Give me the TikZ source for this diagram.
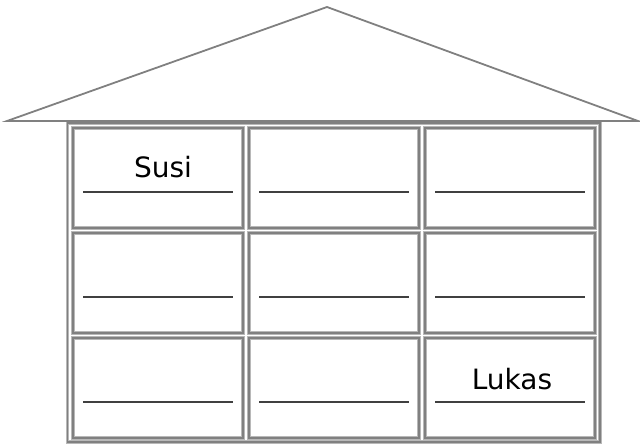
\documentclass[tikz,border=0pt]{standalone}
\usepackage{fontspec}
\setmainfont{DejaVu Sans}
\definecolor{bord}{gray}{0.5}
\definecolor{bordl}{gray}{0.72}
\definecolor{uline}{gray}{0.25}
\tikzset{
  roofline/.style={draw=bord, line width=1.8pt, line join=miter},
  cellbox/.style={draw=bordl, line width=3.2pt},
  cellcore/.style={draw=bord, line width=1.4pt},
  nameline/.style={draw=uline, line width=1.6pt},
  nametext/.style={font=\fontsize{28}{31}\selectfont, anchor=base, inner sep=0pt, text=black}
}
\begin{document}
\begin{tikzpicture}[x=1pt, y=-1pt]
\useasboundingbox (0,0) rectangle (640,444);
% roof
\coordinate (rl) at (7,121);
\coordinate (ra) at (327,7);
\coordinate (rr) at (638,121);
\draw[roofline] (rl) -- (ra) -- (rr) -- cycle;
% table outer border
\draw[cellbox] (67.5,123) rectangle (600,442);
\draw[cellcore] (67.5,123) rectangle (600,442);
\draw[draw=bord, line width=2pt] (rl) -- (rr);
% cells
\foreach \c/\x in {0/73,1/249,2/425}{
  \foreach \r/\y in {0/128,1/233,2/338}{
    \draw[cellbox] (\x,\y) rectangle ++(170,100);
    \draw[cellcore] (\x,\y) rectangle ++(170,100);
    \coordinate (ls\c\r) at (\x+10,\y+64);
    \coordinate (le\c\r) at (\x+160,\y+64);
    \draw[nameline] (ls\c\r) -- (le\c\r);
  }
}
\node[nametext] (susi) at (163,177) {Susi};
\node[nametext] (lukas) at (512,389) {Lukas};
\end{tikzpicture}
\end{document}
